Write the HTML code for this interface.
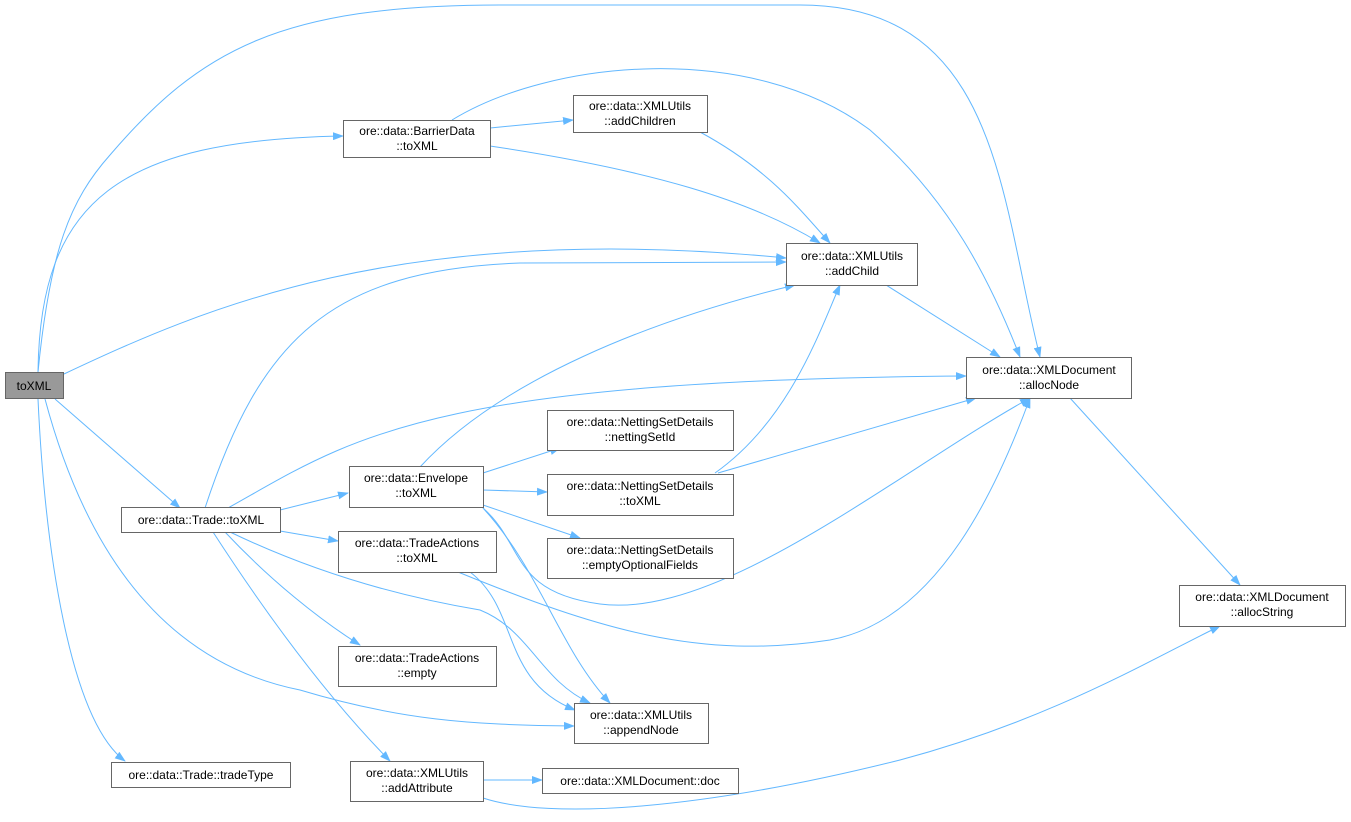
<!DOCTYPE html>
<html><head><meta charset="utf-8"><style>
html,body{margin:0;padding:0;background:#fff;width:1351px;height:822px;overflow:hidden}
svg text{font-family:"Liberation Sans",Arial,sans-serif;font-size:12px;fill:#000}
</style></head><body>
<svg width="1351" height="822" viewBox="0 0 1351 822" xmlns="http://www.w3.org/2000/svg">
<defs>
<marker id="a" markerWidth="11" markerHeight="8" refX="10" refY="4" orient="auto" markerUnits="userSpaceOnUse">
<path d="M0,0 L11,4 L0,8 Z" fill="#63b8ff"/>
</marker>
</defs>
<g fill="none" stroke="#63b8ff" stroke-width="1" marker-end="url(#a)">
<path d="M38,372 C50,250 70,200 110,155 C200,50 280,5 500,5 L800,5 C1000,5 1000,200 1040,357"/>
<path d="M38,372 C40,200 120,140 343,136"/>
<path d="M64,374 C200,310 400,220 786,258"/>
<path d="M55,399 L180,508"/>
<path d="M38,399 C45,550 70,720 125,761"/>
<path d="M45,399 C80,530 150,660 300,690 C400,720 470,725 574,726"/>
<path d="M490,128 L573,120"/>
<path d="M490,146 C650,170 750,200 820,243"/>
<path d="M452,120 C550,60 750,40 870,130 C950,200 990,280 1020,357"/>
<path d="M700,132 C770,170 800,210 830,243"/>
<path d="M886,285 L1000,357"/>
<path d="M1070,398 L1240,585"/>
<path d="M205,508 C260,340 330,270 520,263 L786,262"/>
<path d="M228,508 C350,440 420,380 966,376"/>
<path d="M280,510 L348,493"/>
<path d="M280,531 L338,541"/>
<path d="M225,532 C270,580 320,620 360,645"/>
<path d="M213,532 C270,620 330,700 390,761"/>
<path d="M230,532 C330,580 420,600 480,610 C530,630 540,680 590,703"/>
<path d="M420,467 C500,380 650,320 795,285"/>
<path d="M483,473 L560,448"/>
<path d="M483,490 L547,492"/>
<path d="M483,505 L580,538"/>
<path d="M483,508 C525,545 510,592 600,604 C720,620 900,470 1030,398"/>
<path d="M483,508 C540,570 560,650 610,703"/>
<path d="M715,473 C790,420 820,330 840,285"/>
<path d="M718,473 L976,398"/>
<path d="M470,572 C520,610 500,680 575,710"/>
<path d="M458,572 C600,630 700,660 830,640 C940,620 1000,480 1030,398"/>
<path d="M483,780 L542,780"/>
<path d="M483,798 C550,820 700,810 900,760 C1050,720 1150,660 1220,626"/>
</g>
<g stroke="#666" stroke-width="1" fill="#fff">
<rect x="5.5" y="372.5" width="58" height="26" fill="#999"/>
<rect x="343.5" y="120.5" width="147" height="37"/>
<rect x="573.5" y="95.5" width="134" height="37"/>
<rect x="786.5" y="243.5" width="131" height="42"/>
<rect x="966.5" y="357.5" width="165" height="41"/>
<rect x="547.5" y="410.5" width="186" height="40"/>
<rect x="349.5" y="466.5" width="134" height="41"/>
<rect x="547.5" y="474.5" width="186" height="41"/>
<rect x="121.5" y="507.5" width="159" height="25"/>
<rect x="338.5" y="531.5" width="158" height="41"/>
<rect x="547.5" y="538.5" width="186" height="40"/>
<rect x="1179.5" y="585.5" width="166" height="41"/>
<rect x="338.5" y="646.5" width="158" height="40"/>
<rect x="574.5" y="703.5" width="134" height="40"/>
<rect x="111.5" y="762.5" width="179" height="25"/>
<rect x="350.5" y="761.5" width="133" height="40"/>
<rect x="542.5" y="768.5" width="196" height="25"/>
</g>
<g text-anchor="middle">
<text x="34" y="390">toXML</text>
<text x="417" y="135">ore::data::BarrierData</text><text x="417" y="150">::toXML</text>
<text x="640" y="110">ore::data::XMLUtils</text><text x="640" y="125">::addChildren</text>
<text x="852" y="260">ore::data::XMLUtils</text><text x="852" y="275">::addChild</text>
<text x="1049" y="374">ore::data::XMLDocument</text><text x="1049" y="389">::allocNode</text>
<text x="640" y="426">ore::data::NettingSetDetails</text><text x="640" y="441">::nettingSetId</text>
<text x="416" y="482">ore::data::Envelope</text><text x="416" y="497">::toXML</text>
<text x="640" y="490">ore::data::NettingSetDetails</text><text x="640" y="505">::toXML</text>
<text x="201" y="524">ore::data::Trade::toXML</text>
<text x="417" y="547">ore::data::TradeActions</text><text x="417" y="562">::toXML</text>
<text x="640" y="554">ore::data::NettingSetDetails</text><text x="640" y="569">::emptyOptionalFields</text>
<text x="1262" y="601">ore::data::XMLDocument</text><text x="1262" y="616">::allocString</text>
<text x="417" y="662">ore::data::TradeActions</text><text x="417" y="677">::empty</text>
<text x="641" y="719">ore::data::XMLUtils</text><text x="641" y="734">::appendNode</text>
<text x="201" y="779">ore::data::Trade::tradeType</text>
<text x="417" y="777">ore::data::XMLUtils</text><text x="417" y="792">::addAttribute</text>
<text x="640" y="785">ore::data::XMLDocument::doc</text>
</g>
</svg>
</body></html>
